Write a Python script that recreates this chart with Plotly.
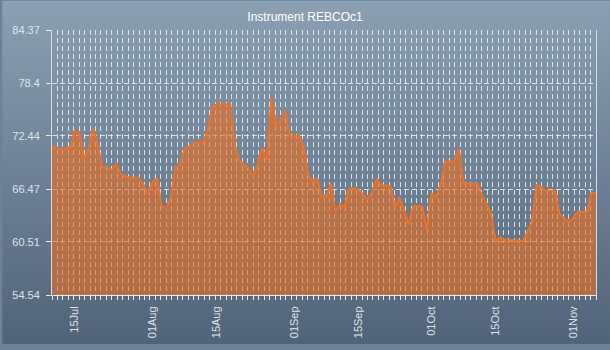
import base64
import plotly.graph_objects as go

# Daily closing values for the instrument
dates = [
    "2024-07-10", "2024-07-11", "2024-07-13", "2024-07-14", "2024-07-15", "2024-07-16",
    "2024-07-17", "2024-07-18", "2024-07-19", "2024-07-20", "2024-07-21", "2024-07-22",
    "2024-07-23", "2024-07-24", "2024-07-25", "2024-07-26", "2024-07-27", "2024-07-29",
    "2024-07-30", "2024-07-31", "2024-08-01", "2024-08-02", "2024-08-03", "2024-08-04",
    "2024-08-05", "2024-08-06", "2024-08-07", "2024-08-08", "2024-08-09", "2024-08-10",
    "2024-08-12", "2024-08-13", "2024-08-14", "2024-08-15", "2024-08-18", "2024-08-19",
    "2024-08-20", "2024-08-21", "2024-08-22", "2024-08-23", "2024-08-24", "2024-08-25",
    "2024-08-26", "2024-08-27", "2024-08-28", "2024-08-29", "2024-08-30", "2024-08-31",
    "2024-09-02", "2024-09-03", "2024-09-04", "2024-09-05", "2024-09-06", "2024-09-07",
    "2024-09-08", "2024-09-09", "2024-09-10", "2024-09-11", "2024-09-12", "2024-09-13",
    "2024-09-14", "2024-09-15", "2024-09-16", "2024-09-17", "2024-09-18", "2024-09-19",
    "2024-09-20", "2024-09-21", "2024-09-22", "2024-09-23", "2024-09-24", "2024-09-25",
    "2024-09-26", "2024-09-27", "2024-09-29", "2024-09-30", "2024-10-01", "2024-10-02",
    "2024-10-03", "2024-10-04", "2024-10-06", "2024-10-07", "2024-10-08", "2024-10-11",
    "2024-10-12", "2024-10-13", "2024-10-14", "2024-10-15", "2024-10-16", "2024-10-17",
    "2024-10-21", "2024-10-22", "2024-10-23", "2024-10-24", "2024-10-25", "2024-10-26",
    "2024-10-28", "2024-10-29", "2024-10-30", "2024-10-31", "2024-11-01", "2024-11-02",
    "2024-11-04", "2024-11-05", "2024-11-06",
]
prices = [
    71.33, 70.96, 70.96, 71.22, 73.06, 72.80,
    69.93, 70.96, 73.35, 71.33, 68.93, 68.93,
    68.57, 69.30, 68.19, 67.90, 67.75, 67.75,
    67.00, 65.90, 67.28, 67.64, 64.50, 64.30,
    65.60, 69.00, 69.10, 71.03, 71.25, 71.70,
    71.70, 72.99, 75.56, 76.00, 76.00, 71.14,
    69.67, 69.23, 68.86, 67.83, 69.30, 71.07,
    69.74, 76.75, 73.65, 74.16, 75.38, 72.44,
    72.44, 71.33, 68.13, 67.28, 67.64, 65.60,
    65.60, 67.10, 64.00, 64.80, 64.50, 66.50,
    66.50, 66.40, 65.90, 65.32, 65.98, 67.64,
    66.90, 66.85, 66.80, 64.44, 65.54, 64.15,
    62.50, 64.52, 64.52, 61.86, 65.98, 65.54,
    66.90, 69.56, 69.56, 70.96, 67.09, 67.09,
    65.80, 64.80, 63.70, 60.70, 61.00, 60.76,
    60.65, 61.60, 62.70, 66.90, 66.65, 66.28,
    66.28, 63.70, 63.22, 62.74, 63.22, 63.88,
    63.88, 66.06, 66.06,
]

# Axis settings
x_start, x_end = "2024-07-10", "2024-11-06"
x_tickvals = ["2024-07-15", "2024-08-01", "2024-08-15", "2024-09-01",
              "2024-09-15", "2024-10-01", "2024-10-15", "2024-11-01"]
y_min, y_max = 54.54, 84.37
y_tickvals = [54.54, 60.51, 66.47, 72.44, 78.4, 84.37]
y_ticktext = ["54.54", "60.51", "66.47", "72.44", "78.4", "84.37"]

W, H = 610, 350
ML, MR, MT, MB = 50, 14, 30, 50
PW, PH = W - ML - MR, H - MT - MB

# 100 evenly spaced vertical grid divisions across the date range
span_ms = (119) * 86400000
minor_dtick = span_ms / 100

# Vertical gradient backdrop for the whole canvas
svg = (
    f'<svg xmlns="http://www.w3.org/2000/svg" width="{W}" height="{H}" '
    f'preserveAspectRatio="none">'
    '<defs><linearGradient id="g" x1="0" y1="0" x2="0" y2="1">'
    '<stop offset="0" stop-color="#8ca0b4"/>'
    '<stop offset="1" stop-color="#506378"/>'
    '</linearGradient></defs>'
    f'<rect width="{W}" height="{H}" fill="url(#g)"/></svg>'
)
bg_src = "data:image/svg+xml;base64," + base64.b64encode(svg.encode()).decode()

FONT = "Liberation Sans"
LABEL = "#dde3ea"
GRID = "rgba(240,240,240,0.85)"

fig = go.Figure()
fig.add_trace(go.Scatter(
    x=dates, y=prices, mode="lines",
    line=dict(color="#f27020", width=2),
    fill="tozeroy", fillcolor="rgba(232,110,30,0.62)",
    hoverinfo="x+y",
))

fig.update_layout(
    width=W, height=H,
    margin=dict(l=ML, r=MR, t=MT, b=MB),
    paper_bgcolor="#6e8297",
    plot_bgcolor="rgba(255,255,255,0.18)",
    showlegend=False,
    title=dict(text="Instrument REBCOc1", x=0.5, xanchor="center",
               y=1 - 17 / H, yanchor="middle",
               font=dict(family=FONT, size=12, color="#ffffff")),
    images=[dict(source=bg_src, xref="paper", yref="paper",
                 x=-ML / PW, y=1 + MT / PH, sizex=W / PW, sizey=H / PH,
                 xanchor="left", yanchor="top", sizing="stretch", layer="below")],
    xaxis=dict(
        type="date", range=[x_start, x_end],
        tickvals=x_tickvals, tickformat="%d%b", tickangle=-90,
        ticks="", showgrid=False,
        showline=True, linecolor="#e6ebf0", linewidth=1,
        tickfont=dict(family=FONT, size=11, color=LABEL),
        ticklabelstandoff=6,
        minor=dict(tick0=x_start, dtick=minor_dtick, ticks="outside", ticklen=4,
                   tickcolor="#e6ebf0", showgrid=True, gridcolor=GRID,
                   griddash="5px,3px", gridwidth=1),
    ),
    yaxis=dict(
        range=[y_min, y_max], tickvals=y_tickvals, ticktext=y_ticktext,
        ticks="outside", ticklen=5, tickcolor="#e6ebf0",
        showgrid=True, gridcolor=GRID, griddash="5px,3px", gridwidth=1,
        showline=True, linecolor="#d6dde5", linewidth=1, mirror=True,
        zeroline=False,
        tickfont=dict(family=FONT, size=11, color=LABEL),
        ticklabelstandoff=4,
    ),
)

fig.write_html("out.html")
